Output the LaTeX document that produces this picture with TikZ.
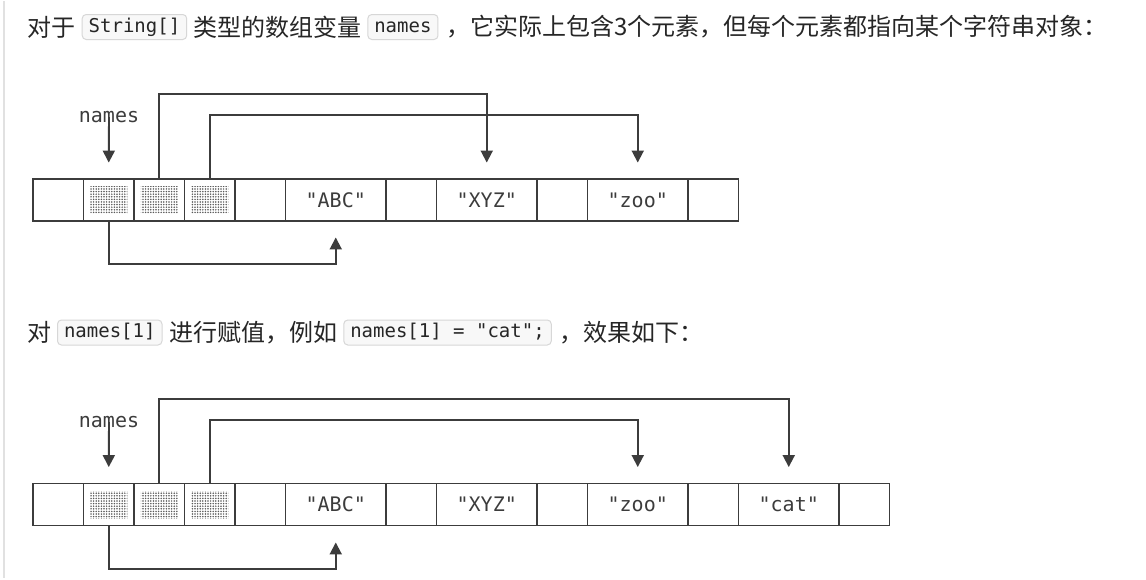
\documentclass[tikz,border=0pt]{standalone}
\usepackage{fontspec}
\newfontfamily\cjk{Noto Sans CJK SC}
\newfontfamily\monof[Ligatures=TeXOff]{DejaVu Sans Mono}
\usetikzlibrary{arrows.meta,patterns.meta,calc}
\definecolor{ink}{RGB}{60,60,60}
\definecolor{txtc}{RGB}{38,38,38}
\definecolor{codebg}{RGB}{248,248,248}
\definecolor{codebd}{RGB}{215,215,215}
\definecolor{barc}{RGB}{225,225,225}
\begin{document}
\begin{tikzpicture}[x=1pt,y=-1pt,
 txt/.style={anchor=west, inner sep=0pt, font=\cjk\fontsize{24}{28}\selectfont, text=txtc},
 code/.style={anchor=west, draw=codebd, fill=codebg, rounded corners=4pt, line width=1pt, inner xsep=6.5pt, inner ysep=0pt, minimum height=25pt, text height=14pt, text depth=4pt, font=\monof\fontsize{19}{22}\selectfont, text=txtc},
 cell/.style={draw=ink, line width=1.9pt, inner sep=0pt, minimum height=42pt, font=\monof\fontsize{20}{24}\selectfont, text=ink},
 small/.style={cell, minimum width=50.5pt},
 large/.style={cell, minimum width=100.5pt},
 hatch/.style={inner sep=0pt, minimum width=37pt, minimum height=27pt, pattern={Dots[distance=2.6pt, radius=0.85pt]}, pattern color=ink!85},
 lbl/.style={inner sep=0pt, font=\monof\fontsize{20}{24}\selectfont, text=ink},
 arr/.style={draw=ink, line width=1.9pt, -{Triangle[width=12pt,length=12pt]}},
]
\path[fill=white] (0,0) rectangle (1146,577);
\draw[line width=2pt, barc] (4,0) -- (4,577);

% ---- line 1 text ----
\node[txt] (t1a) at (27,26) {对于};
\node[code] (k1a) at (81.7,26) {String[]};
\node[txt] (t1b) at (193,26) {类型的数组变量};
\node[code] (k1b) at (367.3,26) {names};
\node[txt] (t1c) at (446,26) {，它实际上包含3个元素，但每个元素都指向某个字符串对象：};

% ---- array 1 ----
\node[small] (r1c0) at (58.25,199) {};
\node[small] (r1c1) at (108.75,199) {};
\node[small] (r1c2) at (159.25,199) {};
\node[small] (r1c3) at (209.75,199) {};
\node[small] (r1c4) at (260.25,199) {};
\node[large] (r1c5) at (335.75,199) {"ABC"};
\node[small] (r1c6) at (411.25,199) {};
\node[large] (r1c7) at (486.75,199) {"XYZ"};
\node[small] (r1c8) at (562.25,199) {};
\node[large] (r1c9) at (637.75,199) {"zoo"};
\node[small] (r1c10) at (713.25,199) {};
\node[hatch] (h11) at (r1c1) {};
\node[hatch] (h12) at (r1c2) {};
\node[hatch] (h13) at (r1c3) {};
\node[lbl] (nm1) at (109,116) {names};

\draw[arr] (nm1.center) -- ($(r1c1.north)+(0,-15.5)$);
\draw[arr] (r1c2.north) -- ++(0,-84) -| ($(r1c7.north)+(0,-15.5)$);
\draw[arr] (r1c3.north) -- ++(0,-63.5) -| ($(r1c9.north)+(0,-15.5)$);
\draw[arr] (r1c1.south) -- ++(0,41.7) -| ($(r1c5.south)+(0,15.5)$);

% ---- line 2 text ----
\node[txt] (t2a) at (27,331.5) {对};
\node[code] (k2a) at (57,331.5) {names[1]};
\node[txt] (t2b) at (169,331.5) {进行赋值，例如};
\node[code] (k2b) at (343.3,331.5) {names[1] = "cat";};
\node[txt] (t2c) at (559,331.5) {，效果如下：};

% ---- array 2 ----
\node[small] (r2c0) at (58.25,503.5) {};
\node[small] (r2c1) at (108.75,503.5) {};
\node[small] (r2c2) at (159.25,503.5) {};
\node[small] (r2c3) at (209.75,503.5) {};
\node[small] (r2c4) at (260.25,503.5) {};
\node[large] (r2c5) at (335.75,503.5) {"ABC"};
\node[small] (r2c6) at (411.25,503.5) {};
\node[large] (r2c7) at (486.75,503.5) {"XYZ"};
\node[small] (r2c8) at (562.25,503.5) {};
\node[large] (r2c9) at (637.75,503.5) {"zoo"};
\node[small] (r2c10) at (713.25,503.5) {};
\node[large] (r2c11) at (788.75,503.5) {"cat"};
\node[small] (r2c12) at (864.25,503.5) {};
\node[hatch] (h21) at (r2c1) {};
\node[hatch] (h22) at (r2c2) {};
\node[hatch] (h23) at (r2c3) {};
\node[lbl] (nm2) at (109,421) {names};

\draw[arr] (nm2.center) -- ($(r2c1.north)+(0,-15.5)$);
\draw[arr] (r2c2.north) -- ++(0,-83.7) -| ($(r2c11.north)+(0,-15.5)$);
\draw[arr] (r2c3.north) -- ++(0,-62.7) -| ($(r2c9.north)+(0,-15.5)$);
\draw[arr] (r2c1.south) -- ++(0,42.4) -| ($(r2c5.south)+(0,16)$);
\end{tikzpicture}
\end{document}
